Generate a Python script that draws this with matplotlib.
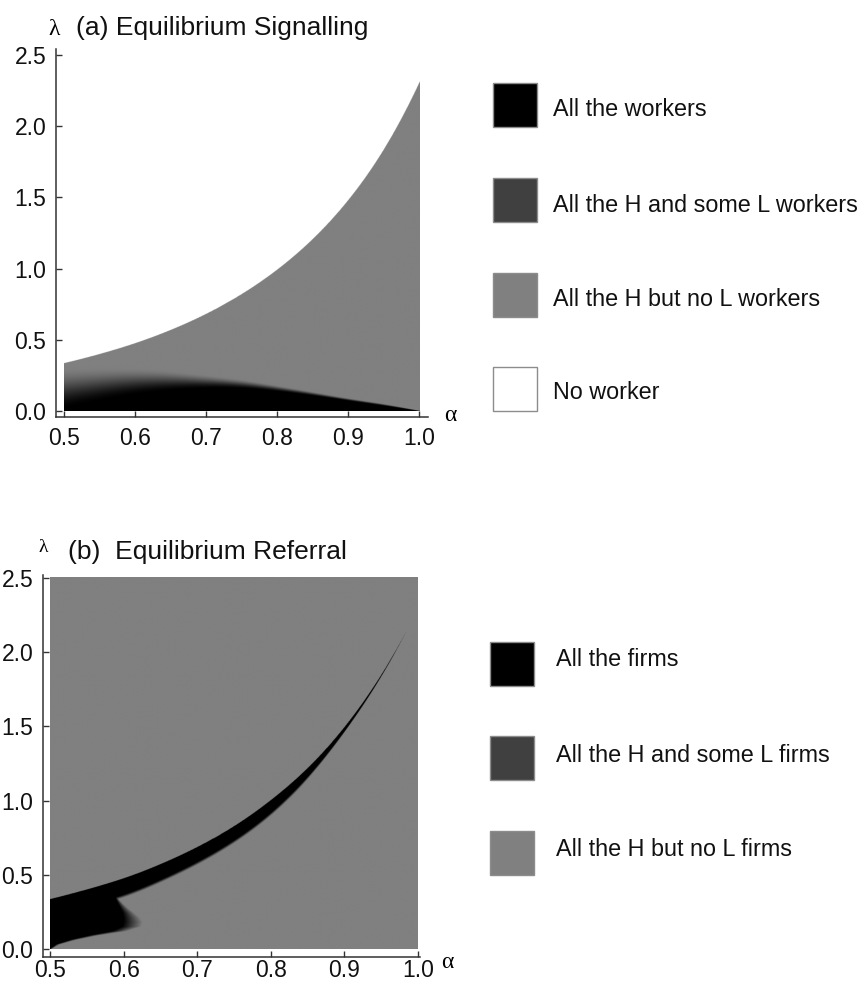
import numpy as np
import matplotlib
matplotlib.use("Agg")
import matplotlib.pyplot as plt
from matplotlib.patches import Rectangle

plt.rcParams['font.family'] = ['Liberation Sans', 'DejaVu Sans']

# ---------------- data ----------------
# (a) Equilibrium signalling: regions in the (alpha, lambda) plane
alpha_a = [0.50, 0.55, 0.60, 0.65, 0.70, 0.75, 0.80, 0.85, 0.90, 0.95, 1.00]
lam_upper_a = [0.335, 0.399, 0.475, 0.568, 0.681, 0.820, 0.992, 1.207, 1.481, 1.837, 2.307]
lam_black_a = [0.01, 0.065, 0.11, 0.14, 0.155, 0.155, 0.135, 0.105, 0.07, 0.035, 0.0]
lam_gray_a = [0.31, 0.31, 0.305, 0.285, 0.255, 0.222, 0.18, 0.135, 0.09, 0.05, 0.0]

# (b) Equilibrium referral: black band below a rising frontier plus a pool near alpha = 0.5
alpha_b = [0.50, 0.55, 0.60, 0.65, 0.70, 0.75, 0.80, 0.85, 0.90, 0.95, 0.985]
lam_band_top_b = [0.335, 0.40, 0.475, 0.57, 0.685, 0.825, 1.00, 1.215, 1.49, 1.84, 2.14]
band_width_b = [0.10, 0.105, 0.11, 0.105, 0.10, 0.095, 0.085, 0.058, 0.028, 0.009, 0.0]
lam_pool_b = [0.00, 0.03, 0.06, 0.09, 0.12, 0.15, 0.18, 0.21, 0.24, 0.27, 0.30, 0.33, 0.37]
alpha_pool_black_b = [0.500, 0.508, 0.527, 0.553, 0.585, 0.598, 0.600, 0.600, 0.599, 0.596, 0.593, 0.590, 0.588]
alpha_pool_gray_b = [0.502, 0.513, 0.535, 0.565, 0.605, 0.624, 0.626, 0.622, 0.615, 0.607, 0.600, 0.594, 0.591]

x_ticks = [0.5, 0.6, 0.7, 0.8, 0.9, 1.0]
y_ticks = [0.0, 0.5, 1.0, 1.5, 2.0, 2.5]

legend_a = ["All the workers", "All the H and some L workers",
            "All the H but no L workers", "No worker"]
legend_b = ["All the firms", "All the H and some L firms", "All the H but no L firms"]
swatch_a = ['#000000', '#404040', '#808080', '#ffffff']
swatch_b = ['#000000', '#404040', '#808080']

GRAY = 128 / 255.0
W, H = 863, 981

fig = plt.figure(figsize=(W / 100, H / 100), dpi=100)


def spline(x, y, xq):
    """Natural cubic spline through (x, y), evaluated at xq (clamped to the range)."""
    x = np.asarray(x, float)
    y = np.asarray(y, float)
    n = len(x)
    h = np.diff(x)
    A = np.zeros((n, n))
    r = np.zeros(n)
    A[0, 0] = A[-1, -1] = 1.0
    for i in range(1, n - 1):
        A[i, i - 1] = h[i - 1]
        A[i, i] = 2 * (h[i - 1] + h[i])
        A[i, i + 1] = h[i]
        r[i] = 6 * ((y[i + 1] - y[i]) / h[i] - (y[i] - y[i - 1]) / h[i - 1])
    M = np.linalg.solve(A, r)
    xq = np.clip(np.asarray(xq, float), x[0], x[-1])
    k = np.clip(np.searchsorted(x, xq) - 1, 0, n - 2)
    hk = h[k]
    a = (x[k + 1] - xq) / hk
    b = (xq - x[k]) / hk
    return a * y[k] + b * y[k + 1] + ((a ** 3 - a) * M[k] + (b ** 3 - b) * M[k + 1]) * hk ** 2 / 6


def px_axes(left, right, bottom, top):
    return fig.add_axes([left / W, 1 - bottom / H, (right - left) / W, (bottom - top) / H])


def style(ax, xlim, ylim, xpad):
    ax.set_xlim(*xlim)
    ax.set_ylim(*ylim)
    for s in ('top', 'right'):
        ax.spines[s].set_visible(False)
    for s in ('left', 'bottom'):
        ax.spines[s].set_color('#333333')
        ax.spines[s].set_linewidth(1.1)
    ax.set_xticks(x_ticks)
    ax.set_yticks(y_ticks)
    ax.set_xticklabels([f"{v:.1f}" for v in x_ticks])
    ax.set_yticklabels([f"{v:.1f}" for v in y_ticks])
    ax.tick_params(direction='in', length=4, width=1, color='#333333',
                   labelsize=16.5, pad=7, labelcolor='#111111')
    ax.tick_params(axis='x', pad=xpad)
    ax.set_facecolor('none')


na, nl = 900, 1600
A = np.linspace(0.5, 1.0, na)
L = np.linspace(0.0, 2.5, nl)
AA, LL = np.meshgrid(A, L)

# ---- panel (a) ----
ax_a = px_axes(56, 427.7, 417, 49.3)
style(ax_a, (0.489, 1.012), (-0.042, 2.54), xpad=7)
up = np.exp(spline(alpha_a, np.log(lam_upper_a), A))
lo = np.clip(spline(alpha_a, lam_black_a, A), 0, None)
hi = np.clip(spline(alpha_a, lam_gray_a, A), 0, None)
t = np.clip((LL - lo) / np.maximum(hi - lo, 1e-3), 0, 1)
t = t * t * (3 - 2 * t)
img_a = np.ones((nl, na, 4))
img_a[..., :3] = (GRAY * t)[..., None]
img_a[..., 3] = (LL <= up).astype(float)
ax_a.imshow(img_a, origin='lower', extent=[0.5, 1.0, 0, 2.5], aspect='auto',
            interpolation='antialiased', zorder=1)

# ---- panel (b) ----
ax_b = px_axes(43, 420.2, 957, 575)
style(ax_b, (0.4905, 1.003), (-0.054, 2.52), xpad=1.5)
top = np.exp(spline(alpha_b, np.log(lam_band_top_b), A))
width = np.clip(spline(alpha_b, band_width_b, A), 0, None)
width[A >= alpha_b[-1]] = 0.0
soft = np.minimum(0.02, 0.3 * width) + 1e-6
band = np.clip((top - width - LL) / soft, 0, 1)
rb = np.interp(L, lam_pool_b, alpha_pool_black_b, right=0.5)
rg = np.interp(L, lam_pool_b, alpha_pool_gray_b, right=0.5)
pool = np.clip((AA - rb[:, None]) / np.maximum(rg - rb, 1e-3)[:, None], 0, 1)
v = np.minimum(band, pool)
v[LL > top] = 1.0
img_b = np.ones((nl, na, 4))
img_b[..., :3] = (GRAY * v)[..., None]
ax_b.imshow(img_b, origin='lower', extent=[0.5, 1.0, 0, 2.5], aspect='auto',
            interpolation='antialiased', zorder=1)

# ---- titles and axis symbols ----
def ftext(x, y, s, **kw):
    fig.text(x / W, 1 - y / H, s, **kw)

serif = ['Liberation Serif', 'DejaVu Serif']
ftext(54, 35, "λ", fontsize=17, family=serif, ha='center', va='baseline')
ftext(76, 34.5, "(a) Equilibrium Signalling", fontsize=19, ha='left', va='baseline', color='#111111')
ftext(450, 421, "α", fontsize=17, family=serif, ha='center', va='baseline')

ftext(43, 552, "λ", fontsize=14, family=serif, ha='center', va='baseline')
ftext(68, 559.5, "(b)  Equilibrium Referral", fontsize=19, ha='left', va='baseline', color='#111111')
ftext(447, 968, "α", fontsize=17, family=serif, ha='center', va='baseline')

# ---- legends ----
def legend(labels, colors, box_x, box_tops, text_x, baselines):
    for lab, col, bt, bl in zip(labels, colors, box_tops, baselines):
        fig.add_artist(Rectangle((box_x / W, 1 - (bt + 44) / H), 44 / W, 44 / H,
                                 transform=fig.transFigure, facecolor=col,
                                 edgecolor='#8c8c8c', linewidth=1.0))
        ftext(text_x, bl, lab, fontsize=16.8, ha='left', va='baseline', color='#111111')

legend(legend_a, swatch_a, 493, [83, 178, 273, 367], 553, [116.5, 211.5, 305.5, 399])
legend(legend_b, swatch_b, 490, [642, 736, 831], 556, [666.5, 761.5, 855.5])

fig.savefig("out.png", dpi=100, facecolor='white')
